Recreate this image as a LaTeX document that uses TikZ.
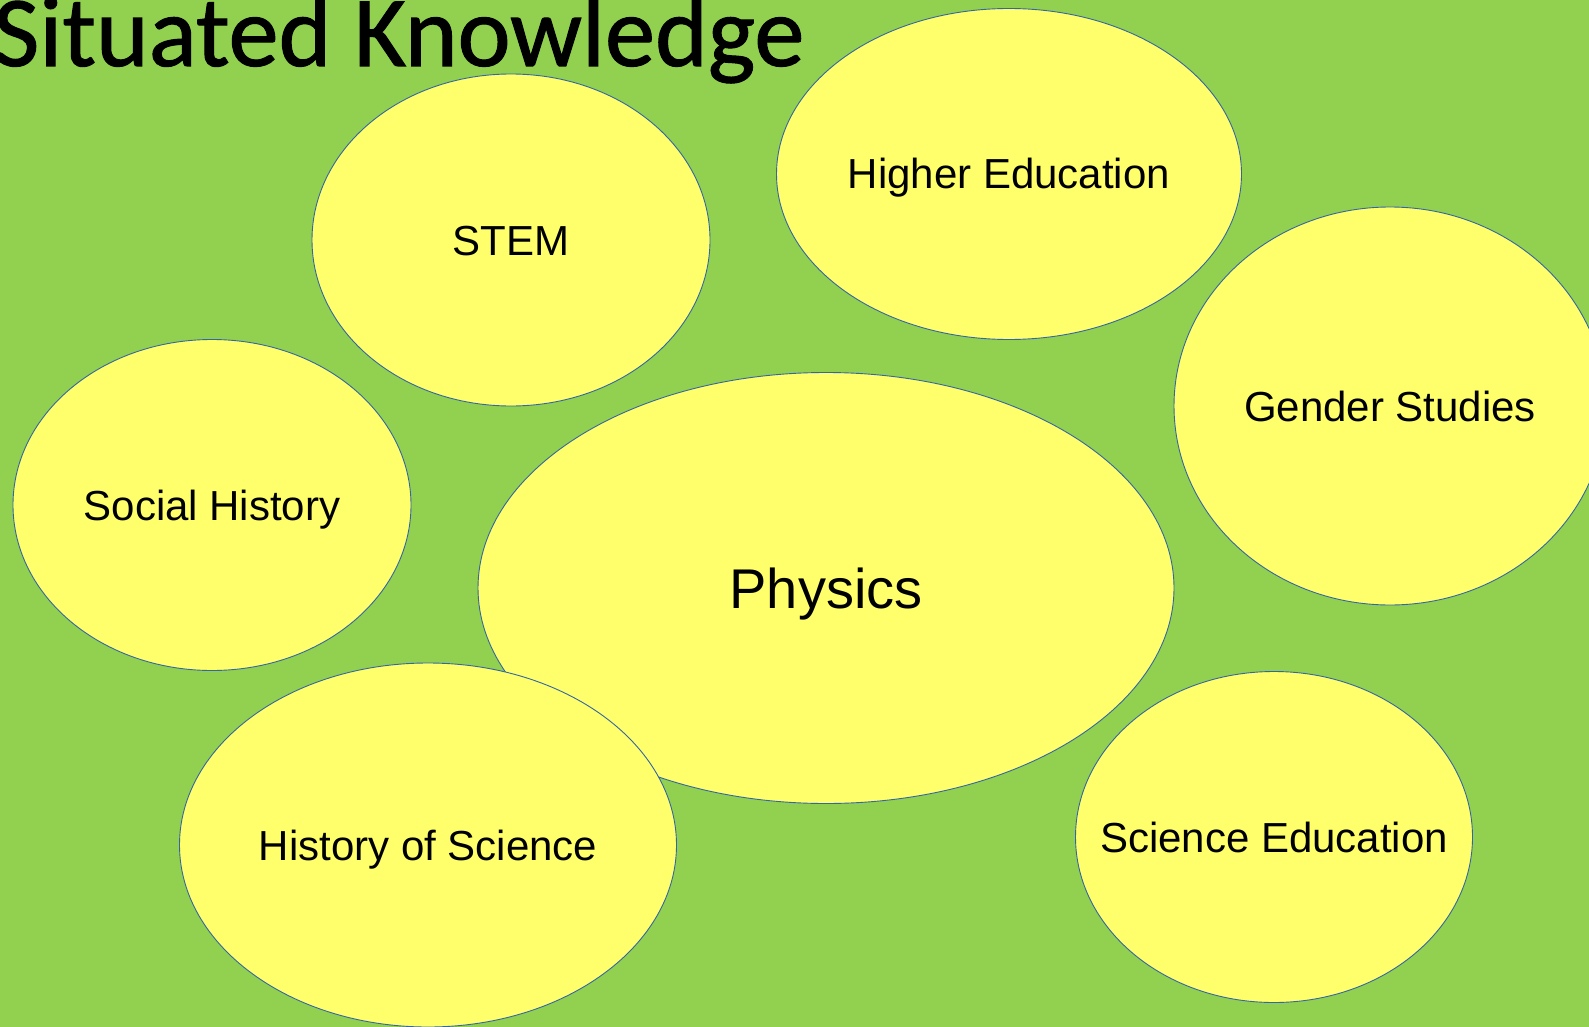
\documentclass[tikz,border=0pt]{standalone}
\usepackage{fontspec}
\setmainfont{Liberation Sans}
\newfontfamily\titlefont[FakeBold=1]{Carlito}
\usetikzlibrary{shapes.geometric}
\definecolor{leaf}{HTML}{92D050}
\definecolor{bubble}{HTML}{FFFF6B}
\definecolor{rim}{HTML}{3465A4}
% labels are zero-width boxes so that each ellipse keeps its own size,
% and are centred on their capitals
\newcommand{\lbl}[1]{\makebox[0pt]{#1}}
\tikzset{
  topic/.style={ellipse, draw=rim, fill=bubble, line width=0.9pt, inner sep=0pt,
    font=\fontsize{42}{50}\selectfont, text=black, text height=30pt, text depth=0pt},
  core/.style={topic, font=\fontsize{56}{66}\selectfont, text height=40pt}
}
\begin{document}
\begin{tikzpicture}[x=1pt, y=-1pt]
  \useasboundingbox (0,0) rectangle (1589,1027);
  \clip (0,0) rectangle (1589,1027);
  \fill[leaf] (0,0) rectangle (1589,1027);

  \node[anchor=base west, font=\titlefont\fontsize{100.5}{110}\selectfont, inner sep=0pt]
    (title) at (-7,66) {Situated Knowledge};

  \node[core, minimum width=696pt, minimum height=431pt] (physics) at (826,588) {\lbl{Physics}};
  \node[topic, minimum width=398pt, minimum height=332pt] (stem) at (511,240) {\lbl{STEM}};
  \node[topic, minimum width=465pt, minimum height=331pt] (higher) at (1009,174) {\lbl{Higher Education}};
  \node[topic, minimum width=432pt, minimum height=398pt] (gender) at (1390,406) {\lbl{Gender Studies}};
  \node[topic, minimum width=398pt, minimum height=331pt] (social) at (212,505) {\lbl{Social History}};
  \node[topic, minimum width=497pt, minimum height=364pt] (history) at (428,845) {\lbl{History of Science}};
  \node[topic, minimum width=397pt, minimum height=331pt] (sciedu) at (1274,837) {\lbl{Science Education}};
\end{tikzpicture}
\end{document}
